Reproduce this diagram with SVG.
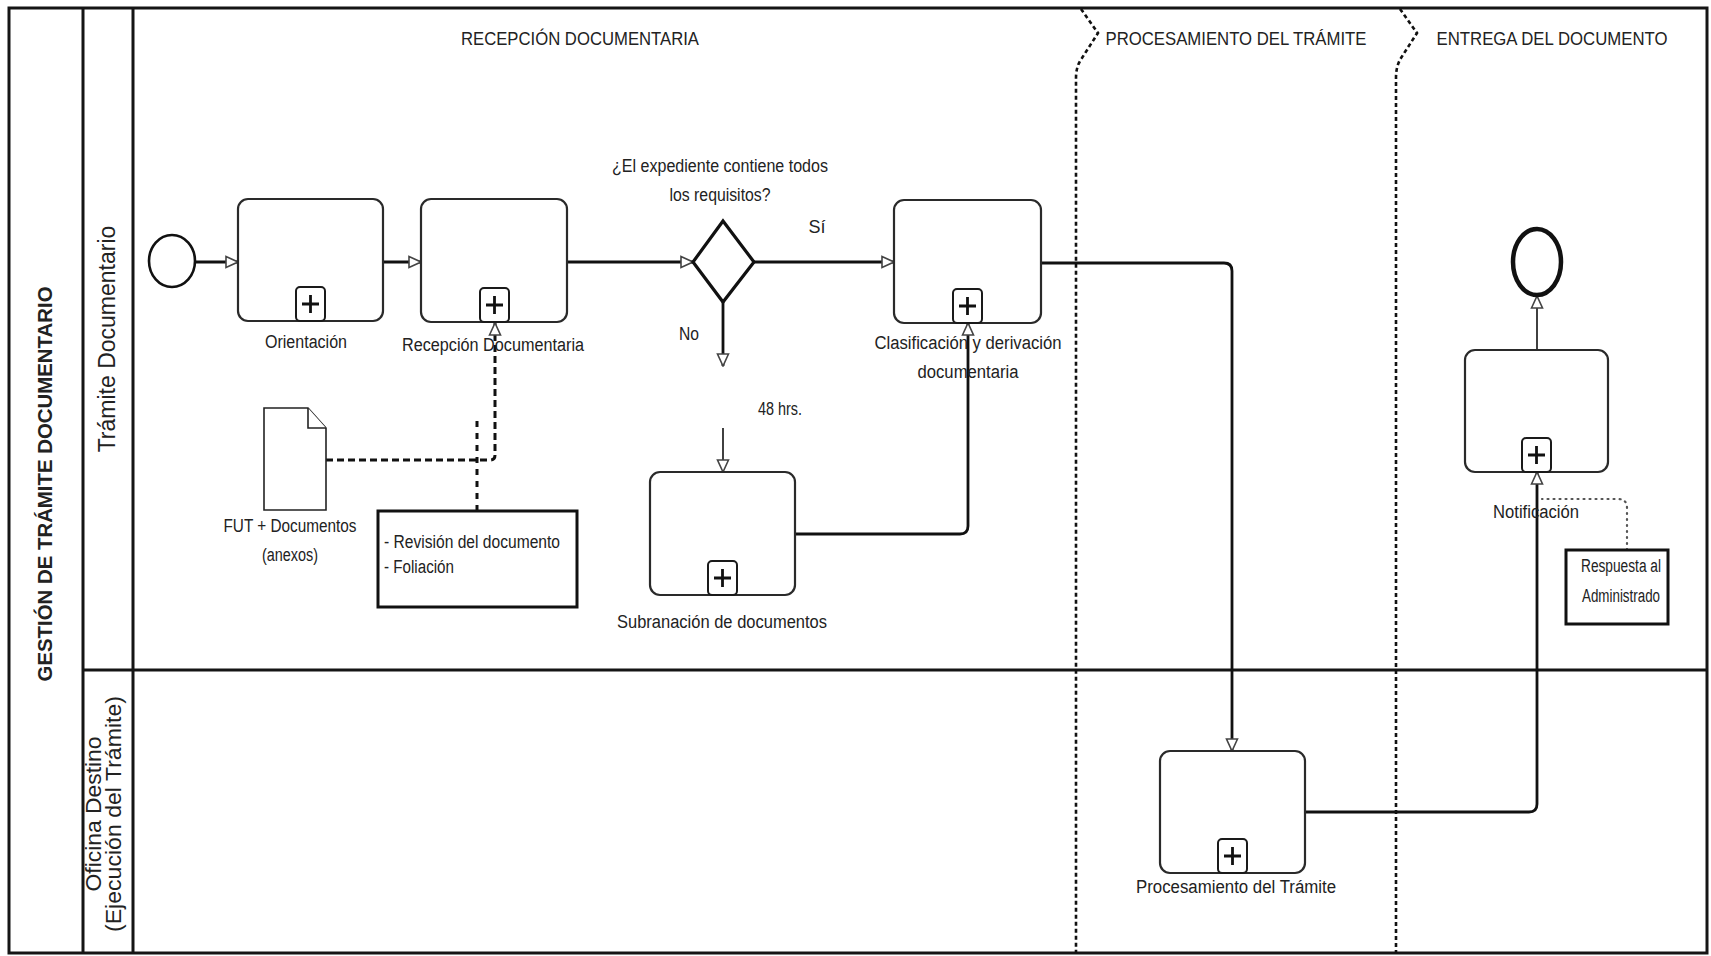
<svg xmlns="http://www.w3.org/2000/svg" width="1711" height="956" viewBox="0 0 1711 956">
<defs>
<style>
.frame{fill:none;stroke:#151515;stroke-width:3}
.div{stroke:#151515;stroke-width:3}
.task{fill:#fff;stroke:#2a2a2a;stroke-width:2.2}
.pbox{fill:#fff;stroke:#1a1a1a;stroke-width:2}
.plus{stroke:#111;stroke-width:2.8;fill:none}
.flow{fill:none;stroke:#111;stroke-width:2.8}
.thin{stroke-width:1.6}
.assoc{fill:none;stroke:#111;stroke-width:3;stroke-dasharray:7 4}
.assoc2{fill:none;stroke:#111;stroke-width:3;stroke-dasharray:6 6}
.dots{fill:none;stroke:#555;stroke-width:2.2;stroke-dasharray:1 5;stroke-linecap:round}
.phase{fill:none;stroke:#111;stroke-width:2.6;stroke-dasharray:4 3}
.ann{fill:#fff;stroke:#111;stroke-width:3}
.doc{fill:#fff;stroke:#222;stroke-width:1.6}
.lbl{font-family:"Liberation Sans",Arial,sans-serif;font-size:18px;fill:#222;text-anchor:middle}
.left{text-anchor:start}
.hdr{font-family:"Liberation Sans",Arial,sans-serif;font-size:19px;fill:#222;text-anchor:middle}
.lane{font-family:"Liberation Sans",Arial,sans-serif;font-size:23px;fill:#222;text-anchor:middle}
.lane2{font-family:"Liberation Sans",Arial,sans-serif;font-size:22px;fill:#222;text-anchor:middle}
.pooltxt{font-family:"Liberation Sans",Arial,sans-serif;font-size:20px;font-weight:bold;fill:#222;text-anchor:middle}
</style>
<marker id="ah" viewBox="0 0 14 14" refX="13" refY="7" markerWidth="14" markerHeight="14" markerUnits="userSpaceOnUse" orient="auto">
<path d="M1,1.5 L13,7 L1,12.5 z" fill="#fff" stroke="#444" stroke-width="1.6"/>
</marker>
</defs>
<rect width="1711" height="956" fill="#fff"/>

<g id="pool">
<rect class="frame" x="9" y="8" width="1698" height="945"/>
<text class="pooltxt" transform="translate(52,484) rotate(-90)" textLength="395" lengthAdjust="spacingAndGlyphs">GESTIÓN DE TRÁMITE DOCUMENTARIO</text>
</g>

<g id="lane-tramite">
<text class="lane" transform="translate(115,339) rotate(-90)">Trámite Documentario</text>
</g>
<g id="lane-oficina">
<text class="lane2" transform="translate(101,814) rotate(-90)" textLength="155" lengthAdjust="spacingAndGlyphs">Oficina Destino</text>
<text class="lane2" transform="translate(121,814) rotate(-90)" textLength="236" lengthAdjust="spacingAndGlyphs">(Ejecución del Trámite)</text>
</g>

<g id="lane-lines">
<line class="div" x1="83" y1="8" x2="83" y2="953"/>
<line class="div" x1="133" y1="8" x2="133" y2="953"/>
<line class="div" x1="83" y1="670" x2="1707" y2="670"/>
</g>

<g id="phases">
<path class="phase" d="M1081,9 L1098,33 L1082,58 Q1076,66 1076,78 V953"/>
<path class="phase" d="M1400,9 L1417,33 L1401,58 Q1396,66 1396,78 V953"/>
<text class="hdr" x="580" y="45" textLength="238" lengthAdjust="spacingAndGlyphs">RECEPCIÓN DOCUMENTARIA</text>
<text class="hdr" x="1236" y="45" textLength="261" lengthAdjust="spacingAndGlyphs">PROCESAMIENTO DEL TRÁMITE</text>
<text class="hdr" x="1552" y="45" textLength="231" lengthAdjust="spacingAndGlyphs">ENTREGA DEL DOCUMENTO</text>
</g>

<g id="connectors">
<path class="flow" d="M195,262 H238" marker-end="url(#ah)"/>
<path class="flow" d="M383,262 H421" marker-end="url(#ah)"/>
<path class="flow" d="M567,262 H693" marker-end="url(#ah)"/>
<path class="flow" d="M754,262 H894" marker-end="url(#ah)"/>
<path class="flow" d="M723,302 V366" marker-end="url(#ah)"/>
<path class="flow thin" d="M723,428 V472" marker-end="url(#ah)"/>
<path class="flow" d="M795,534 H960 Q968,534 968,526 V323" marker-end="url(#ah)"/>
<path class="flow" d="M1041,263 H1224 Q1232,263 1232,271 V751" marker-end="url(#ah)"/>
<path class="flow" d="M1305,812 H1529 Q1537,812 1537,804 V472" marker-end="url(#ah)"/>
<path class="flow thin" d="M1537,350 V296" marker-end="url(#ah)"/>
<path class="assoc" d="M326,460 H490 Q495,460 495,455 V323" marker-end="url(#ah)"/>
<path class="assoc2" d="M477,511 V415"/>
<path class="dots" d="M1627,550 V508 Q1627,499 1618,499 H1542"/>
</g>

<g id="start">
<ellipse cx="172" cy="261" rx="23" ry="26" fill="#fff" stroke="#111" stroke-width="2.6"/>
</g>

<g id="orientacion">
<rect class="task" x="238" y="199" width="145" height="122" rx="10"/>
<rect class="pbox" x="296" y="287" width="29" height="34" rx="4"/>
<path class="plus" d="M302,304 H319 M310.5,295 V313"/>
<text class="lbl" x="306" y="348" textLength="82" lengthAdjust="spacingAndGlyphs">Orientación</text>
</g>

<g id="recepcion">
<rect class="task" x="421" y="199" width="146" height="123" rx="10"/>
<rect class="pbox" x="480" y="288" width="29" height="34" rx="4"/>
<path class="plus" d="M486,305 H503 M494.5,296 V314"/>
<text class="lbl" x="493" y="351" textLength="182" lengthAdjust="spacingAndGlyphs">Recepción Documentaria</text>
</g>

<g id="gateway">
<path d="M723,221 L754,262 L723,302 L693,262 Z" fill="#fff" stroke="#111" stroke-width="3.2" stroke-linejoin="miter"/>
<text class="lbl" x="720" y="172" textLength="216" lengthAdjust="spacingAndGlyphs">¿El expediente contiene todos</text>
<text class="lbl" x="720" y="201" textLength="101" lengthAdjust="spacingAndGlyphs">los requisitos?</text>
<text class="lbl" x="817" y="233">Sí</text>
<text class="lbl" x="689" y="340" textLength="20" lengthAdjust="spacingAndGlyphs">No</text>
<text class="lbl" x="780" y="415" textLength="44" lengthAdjust="spacingAndGlyphs">48 hrs.</text>
</g>

<g id="clasificacion">
<rect class="task" x="894" y="200" width="147" height="123" rx="10"/>
<rect class="pbox" x="953" y="289" width="29" height="34" rx="4"/>
<path class="plus" d="M959,306 H976 M967.5,297 V315"/>
<text class="lbl" x="968" y="349" textLength="187" lengthAdjust="spacingAndGlyphs">Clasificación y derivación</text>
<text class="lbl" x="968" y="378" textLength="101" lengthAdjust="spacingAndGlyphs">documentaria</text>
</g>

<g id="subranacion">
<rect class="task" x="650" y="472" width="145" height="123" rx="10"/>
<rect class="pbox" x="708" y="561" width="29" height="34" rx="4"/>
<path class="plus" d="M714,578 H731 M722.5,569 V587"/>
<text class="lbl" x="722" y="628" textLength="210" lengthAdjust="spacingAndGlyphs">Subranación de documentos</text>
</g>

<g id="procesamiento">
<rect class="task" x="1160" y="751" width="145" height="122" rx="10"/>
<rect class="pbox" x="1218" y="839" width="29" height="34" rx="4"/>
<path class="plus" d="M1224,856 H1241 M1232.5,847 V865"/>
<text class="lbl" x="1236" y="893" textLength="200" lengthAdjust="spacingAndGlyphs">Procesamiento del Trámite</text>
</g>

<g id="notificacion">
<rect class="task" x="1465" y="350" width="143" height="122" rx="10"/>
<rect class="pbox" x="1522" y="438" width="29" height="34" rx="4"/>
<path class="plus" d="M1528,455 H1545 M1536.5,446 V464"/>
<text class="lbl" x="1536" y="518" textLength="86" lengthAdjust="spacingAndGlyphs">Notificación</text>
</g>

<g id="end">
<ellipse cx="1537" cy="262" rx="24" ry="33" fill="#fff" stroke="#111" stroke-width="4.5"/>
</g>

<g id="fut">
<path class="doc" d="M264,408 H308 L326,428 V510 H264 Z"/>
<path class="doc" d="M308,408 V428 H326" fill="none"/>
<text class="lbl" x="290" y="532" textLength="133" lengthAdjust="spacingAndGlyphs">FUT + Documentos</text>
<text class="lbl" x="290" y="561" textLength="56" lengthAdjust="spacingAndGlyphs">(anexos)</text>
</g>

<g id="nota-revision">
<rect class="ann" x="378" y="511" width="199" height="96"/>
<text class="lbl left" x="384" y="548" textLength="176" lengthAdjust="spacingAndGlyphs">- Revisión del documento</text>
<text class="lbl left" x="384" y="573" textLength="70" lengthAdjust="spacingAndGlyphs">- Foliación</text>
</g>

<g id="nota-respuesta">
<rect class="ann" x="1566" y="550" width="102" height="74"/>
<text class="lbl" x="1621" y="572" textLength="80" lengthAdjust="spacingAndGlyphs">Respuesta al</text>
<text class="lbl" x="1621" y="602" textLength="78" lengthAdjust="spacingAndGlyphs">Administrado</text>
</g>
</svg>
